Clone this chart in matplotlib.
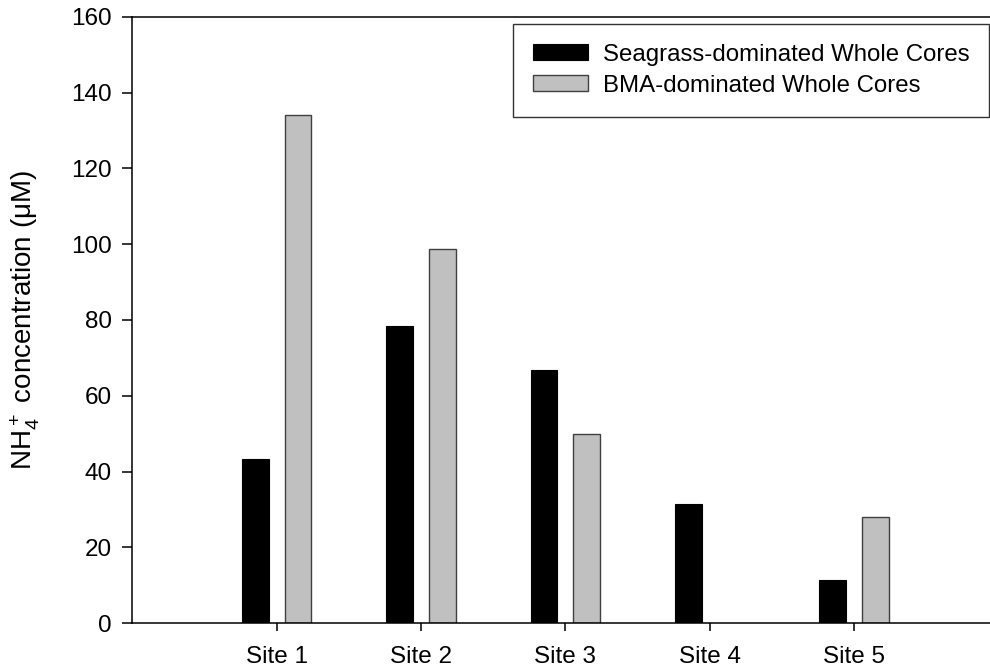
import matplotlib
matplotlib.use("Agg")
import matplotlib.pyplot as plt
import numpy as np

# values (NH4+ in uM)
sites = ["Site 1", "Site 2", "Site 3", "Site 4", "Site 5"]
seagrass = [43.3, 78.5, 66.8, 31.5, 11.3]
bma = [134.0, 98.7, 49.9, np.nan, 28.1]
y_ticks = [0, 20, 40, 60, 80, 100, 120, 140, 160]

plt.rcParams["font.family"] = ["Liberation Sans", "DejaVu Sans"]
plt.rcParams["mathtext.default"] = "regular"
FS = 17.5

fig = plt.figure(figsize=(9.9, 6.71), dpi=100)
ax = fig.add_axes([0.1337, 0.0711, 0.8746, 0.904])

x = np.arange(1, len(sites) + 1)
width = 0.185
off = 0.148
ax.bar(x - off, seagrass, width, color="black", edgecolor="black", linewidth=0.8,
       label="Seagrass-dominated Whole Cores")
ax.bar(x + off, bma, width, color="#c0c0c0", edgecolor="#404040", linewidth=1.0,
       label="BMA-dominated Whole Cores")

ax.set_xlim(0, 6)
ax.set_ylim(0, 160)
ax.set_yticks(y_ticks)
ax.set_xticks(x)
ax.set_xticklabels(sites)

ax.spines["right"].set_visible(False)
for side in ["left", "bottom", "top"]:
    ax.spines[side].set_linewidth(1.1)

ax.tick_params(axis="y", direction="out", length=7, width=1.1, pad=8, labelsize=FS)
ax.tick_params(axis="x", direction="out", length=6, width=1.1, pad=10, labelsize=FS)

ax.set_ylabel("NH$_4^+$ concentration (\u03bcM)", fontsize=20)
ax.yaxis.set_label_coords(-0.104, 0.5)

leg = ax.legend(loc="upper right", bbox_to_anchor=(989 / 990, 1 - 24 / 671),
                bbox_transform=fig.transFigure, borderaxespad=0, fontsize=17.3,
                frameon=True, fancybox=False, shadow=False,
                handlelength=2.3, handleheight=0.66, handletextpad=0.6,
                labelspacing=0.38, borderpad=0.82)
leg.get_frame().set_edgecolor("black")
leg.get_frame().set_linewidth(1.0)

fig.savefig("out.png", dpi=100)
